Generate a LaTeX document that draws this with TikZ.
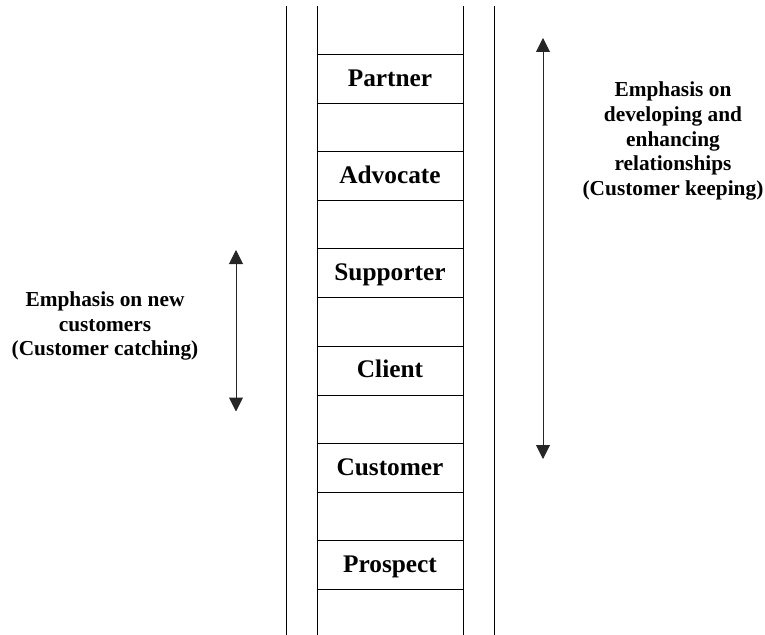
\documentclass[tikz,border=0pt]{standalone}
\usepackage{fontspec}
\setmainfont{Liberation Serif}
\usetikzlibrary{arrows.meta,positioning}

\begin{document}
\begin{tikzpicture}[
    x=0.75pt, y=-0.75pt,
    >={Triangle[width=10.5pt,length=10.5pt]},
    node distance = 36.2pt,
    % --- node styles ---
    rung/.style = {rectangle, draw=black, line width=0.75pt,
                   minimum width=109.5pt, minimum height=36.75pt,
                   text height=13.5pt, text depth=2.3pt,
                   inner sep=0pt, outer sep=0pt,
                   font=\fontsize{19}{22}\selectfont\bfseries},
    note/.style = {align=center,
                   font=\fontsize{16}{18.6}\selectfont\bfseries},
    rail/.style  = {line width=0.75pt},
    arrow/.style = {<->, line width=0.75pt, black!85},
]

\useasboundingbox (0,0) rectangle (765,635);

%============ LADDER RUNGS ============
\node (partner)  [rung] at (390,78.7) {Partner};
\node (advocate) [rung, below=of partner]  {Advocate};
\node (supporter)[rung, below=of advocate] {Supporter};
\node (client)   [rung, below=of supporter]{Client};
\node (customer) [rung, below=of client]   {Customer};
\node (prospect) [rung, below=of customer] {Prospect};

%============ RAILS ============
\coordinate (top)    at (390,6);
\coordinate (bottom) at (390,635);

% inner rails run along the rung sides
\draw[rail] (partner.west |- top) -- (prospect.west |- bottom);
\draw[rail] (partner.east |- top) -- (prospect.east |- bottom);

% outer rails
\draw[rail] (286,6) -- (286,635);
\draw[rail] (494,6) -- (494,635);

%============ EMPHASIS ARROWS ============
\coordinate (keep top)  at (543,38);
\coordinate (keep bot)  at (543,459);
\coordinate (catch top) at (236,250);
\coordinate (catch bot) at (236,411.5);

\draw[arrow] (keep top) -- (keep bot);
\draw[arrow] (catch top) -- (catch bot);

%============ SIDE NOTES ============
\node (keeping) [note] at (673,141)
  {Emphasis on\\developing and\\enhancing\\relationships\\(Customer keeping)};

\node (catching) [note] at (105,326)
  {Emphasis on new\\customers\\(Customer catching)};

\end{tikzpicture}
\end{document}
